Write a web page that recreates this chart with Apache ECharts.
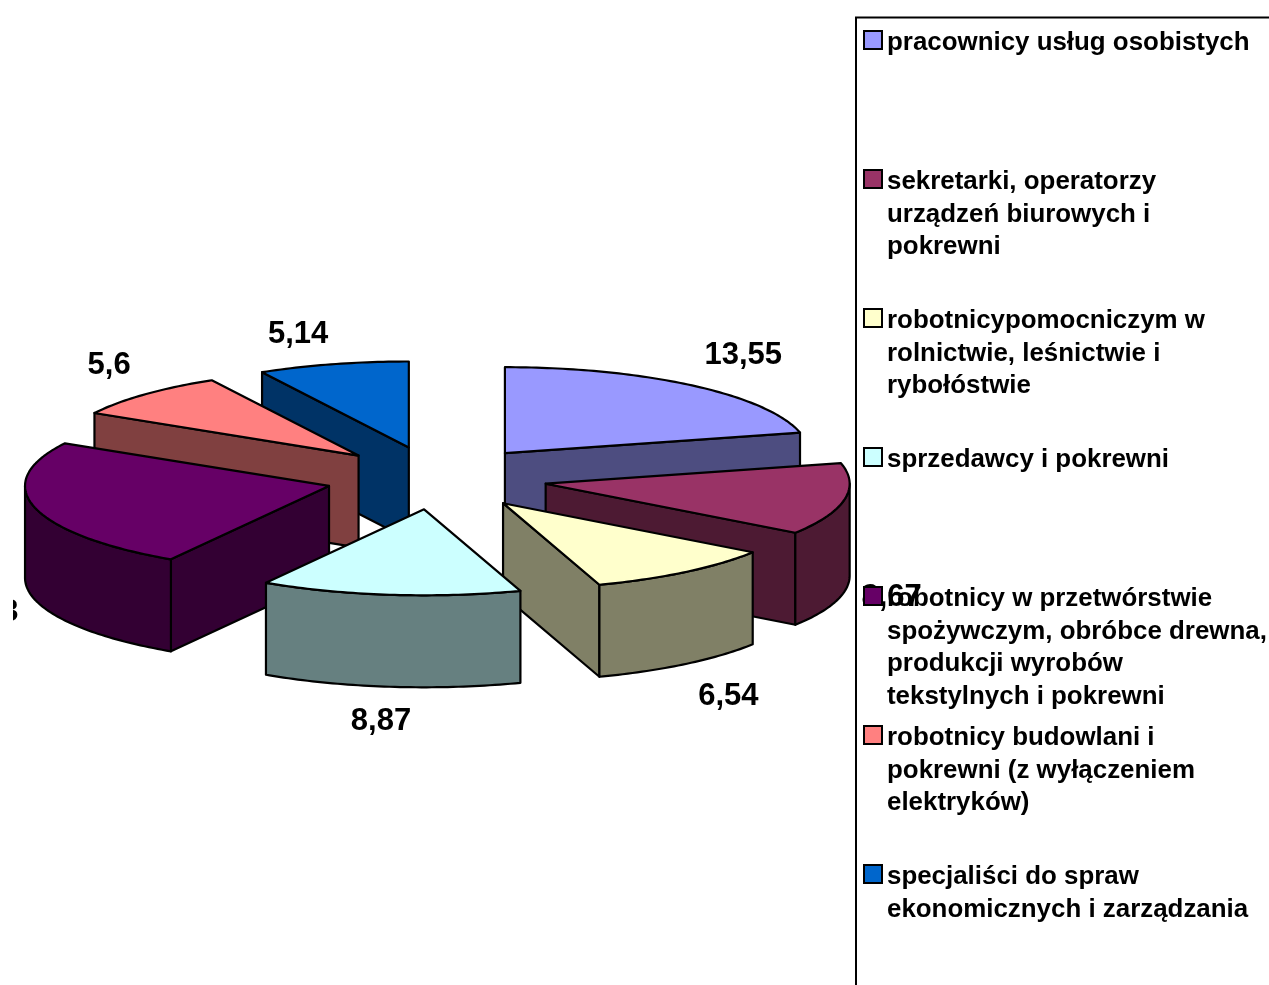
<!DOCTYPE html>
<html>
<head>
<meta charset="utf-8">
<style>html,body{margin:0;padding:0;background:#fff}#c{width:1269px;height:985px}</style>
<script src="https://cdn.jsdelivr.net/npm/echarts@6/dist/echarts.min.js"></script>
</head>
<body>
<div id="c"></div>
<script>
const categories = [
  'pracownicy usług osobistych',
  'sekretarki, operatorzy\nurządzeń biurowych i\npokrewni',
  'robotnicypomocniczym w\nrolnictwie, leśnictwie i\nrybołóstwie',
  'sprzedawcy i pokrewni',
  'robotnicy w przetwórstwie\nspożywczym, obróbce drewna,\nprodukcji wyrobów\ntekstylnych i pokrewni',
  'robotnicy budowlani i\npokrewni (z wyłączeniem\nelektryków)',
  'specjaliści do spraw\nekonomicznych i zarządzania'
];
const values = [13.55, 8.67, 6.54, 8.87, 15.73, 5.6, 5.14];
const colors = ['#9999FF', '#993366', '#FFFFCC', '#CCFFFF', '#660066', '#FF8080', '#0066CC'];
const labelOffsets = [[51,-30],[47,98],[43,124],[-9,127],[-55,105],[-36,-29],[-35,-30]];
const paintOrder = [0, 6, 5, 1, 4, 2, 3];

const CX = 436.5, CY = 478, RX = 304, RY = 86, DEPTH = 92, EX = 111, EY = 31.5;
const FONT = '"Liberation Sans", Arial, sans-serif';
const LEGEND_TOP = 40, LEGEND_STEP = 139, LEGEND_LH = 32.5, TEXT_DROP = 3;
const total = values.reduce((a, b) => a + b, 0);
const rad = d => d * Math.PI / 180;
const starts = [];
values.reduce((acc, v, i) => { starts[i] = acc; return acc + v / total * 360; }, 0);
const shade = c => { const p = echarts.color.parse(c); return 'rgb(' + [p[0], p[1], p[2]].map(v => Math.round(v / 2)).join(',') + ')'; };

function renderSlice(i) {
  return function (params, api) {
    const a = starts[i], b = a + values[i] / total * 360, mid = (a + b) / 2;
    const ax = CX + EX * Math.sin(rad(mid)), ay = CY - EY * Math.cos(rad(mid));
    const pt = d => [ax + RX * Math.sin(rad(d)), ay - RY * Math.cos(rad(d))];
    const arc = (s, e) => { const o = []; for (let d = s; d < e; d += 1) o.push(pt(d)); o.push(pt(e)); return o; };
    const down = p => [p[0], p[1] + DEPTH];
    const side = shade(colors[i]);
    const style = fill => ({ fill, stroke: '#000', lineWidth: 2.2, lineJoin: 'round' });
    const poly = (points, fill) => ({ type: 'polygon', shape: { points }, style: style(fill) });
    const kids = [];
    const A = [ax, ay];
    if (Math.sin(rad(a)) < -1e-6) kids.push(poly([A, pt(a), down(pt(a)), down(A)], side));
    if (Math.sin(rad(b)) > 1e-6) kids.push(poly([A, pt(b), down(pt(b)), down(A)], side));
    const s = Math.max(a, 90), e = Math.min(b, 270);
    if (e > s) {
      const top = arc(s, e);
      kids.push(poly(top.concat(top.map(down).reverse()), side));
    }
    kids.push(poly([A].concat(arc(a, b)), colors[i]));
    const P = pt(mid), off = labelOffsets[i];
    kids.push({
      type: 'text',
      style: {
        text: String(values[i]).replace('.', ','),
        x: P[0] + off[0], y: P[1] + off[1],
        align: 'center', verticalAlign: 'middle',
        font: 'bold 31px ' + FONT, fill: '#000'
      }
    });
    return { type: 'group', children: kids };
  };
}

const legends = categories.map((name, i) => {
  const lines = name.split('\n');
  const n = lines.length;
  return {
    data: [name],
    left: 863,
    top: LEGEND_TOP + i * LEGEND_STEP - (2 * n - 1) * LEGEND_LH / 2 - TEXT_DROP,
    padding: 0,
    selectedMode: false,
    icon: 'rect',
    itemWidth: 18,
    itemHeight: 18,
    itemStyle: { borderColor: '#000', borderWidth: 2 },
    formatter: () => ['{g| }'].concat(new Array(n - 1).fill('{t| }'), lines.map(l => '{t|' + l + '}')).join('\n'),
    textStyle: {
      fontFamily: FONT, fontWeight: 'bold', fontSize: 25.9, color: '#000',
      rich: {
        g: { fontSize: 4, lineHeight: 2 * TEXT_DROP, height: 2 * TEXT_DROP },
        t: { fontFamily: FONT, fontWeight: 'bold', fontSize: 25.9, lineHeight: LEGEND_LH, height: LEGEND_LH, color: '#000' }
      }
    }
  };
});

const chart = echarts.init(document.getElementById('c'), null, { renderer: 'canvas' });
chart.setOption({
  animation: false,
  backgroundColor: '#fff',
  legend: legends,
  graphic: [{
    type: 'rect', z: 1, silent: true,
    shape: { x: 856, y: 17.5, width: 500, height: 1100 },
    style: { fill: '#fff', stroke: '#000', lineWidth: 2 }
  }, {
    type: 'rect', z: 3, silent: true,
    shape: { x: 0, y: 0, width: 13, height: 985 },
    style: { fill: '#fff' }
  }],
  series: paintOrder.map(i => ({
    type: 'custom',
    coordinateSystem: 'none',
    name: categories[i],
    silent: true,
    itemStyle: { color: colors[i] },
    data: [values[i]],
    renderItem: renderSlice(i)
  }))
});
</script>
</body>
</html>
